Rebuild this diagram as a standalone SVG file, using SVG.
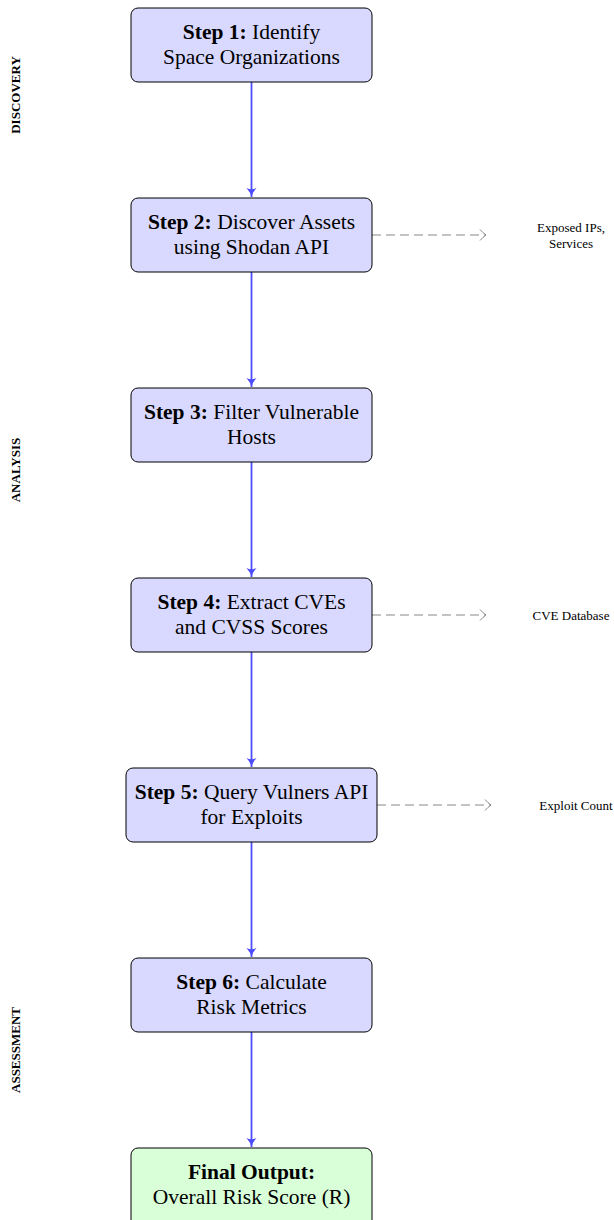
<svg xmlns="http://www.w3.org/2000/svg" width="614" height="1220" viewBox="0 0 614 1220">
<defs>
<marker id="ah" markerWidth="12" markerHeight="12" refX="9" refY="6" orient="auto" markerUnits="userSpaceOnUse">
<path d="M0,1 Q4.5,5 9,6 Q4.5,7 0,11 Q2.5,6 0,1 Z" fill="#4d4dff"/>
</marker>
<marker id="ao" markerWidth="10" markerHeight="14" refX="7" refY="7" orient="auto" markerUnits="userSpaceOnUse">
<path d="M1,1.5 Q4,5 7,7 Q4,9 1,12.5" fill="none" stroke="#888" stroke-width="1"/>
</marker>
</defs>
<style>
.box{fill:#d9d9ff;stroke:#000;stroke-width:1}
.fin{fill:#d9ffd9;stroke:#000;stroke-width:1}
.t{font-family:"Liberation Serif",serif;font-size:21.5px;fill:#000;text-anchor:middle}
.b{font-weight:bold}
.s{font-family:"Liberation Serif",serif;font-size:13px;fill:#000;text-anchor:middle}
.ph{font-family:"Liberation Serif",serif;font-size:13px;font-weight:bold;fill:#000;text-anchor:middle}
.flow{stroke:#4d4dff;stroke-width:1.8;fill:none;marker-end:url(#ah)}
.side{stroke:#888;stroke-width:1;stroke-dasharray:9,5;fill:none;marker-end:url(#ao)}
</style>
<g id="phases">
<text class="ph" transform="translate(20,95) rotate(-90)">DISCOVERY</text>
<text class="ph" transform="translate(20,470) rotate(-90)">ANALYSIS</text>
<text class="ph" transform="translate(20,1050) rotate(-90)">ASSESSMENT</text>
</g>
<g id="connectors">
<line class="flow" x1="251.5" y1="82" x2="251.5" y2="197"/>
<line class="flow" x1="251.5" y1="272" x2="251.5" y2="387"/>
<line class="flow" x1="251.5" y1="462" x2="251.5" y2="577"/>
<line class="flow" x1="251.5" y1="652" x2="251.5" y2="767"/>
<line class="flow" x1="251.5" y1="842" x2="251.5" y2="957"/>
<line class="flow" x1="251.5" y1="1032" x2="251.5" y2="1147"/>
<line class="side" x1="372" y1="235" x2="486" y2="235"/>
<line class="side" x1="372" y1="615" x2="486" y2="615"/>
<line class="side" x1="377" y1="805" x2="491" y2="805"/>
</g>
<g id="step1">
<rect class="box" x="131" y="8" width="241" height="74" rx="7"/>
<text class="t" x="251.5" y="39"><tspan class="b">Step 1:</tspan> Identify</text>
<text class="t" x="251.5" y="64">Space Organizations</text>
</g>
<g id="step2">
<rect class="box" x="131" y="198" width="241" height="74" rx="7"/>
<text class="t" x="251.5" y="229"><tspan class="b">Step 2:</tspan> Discover Assets</text>
<text class="t" x="251.5" y="254">using Shodan API</text>
</g>
<g id="step3">
<rect class="box" x="131" y="388" width="241" height="74" rx="7"/>
<text class="t" x="251.5" y="419"><tspan class="b">Step 3:</tspan> Filter Vulnerable</text>
<text class="t" x="251.5" y="444">Hosts</text>
</g>
<g id="step4">
<rect class="box" x="131" y="578" width="241" height="74" rx="7"/>
<text class="t" x="251.5" y="609"><tspan class="b">Step 4:</tspan> Extract CVEs</text>
<text class="t" x="251.5" y="634">and CVSS Scores</text>
</g>
<g id="step5">
<rect class="box" x="126" y="768" width="251" height="74" rx="7"/>
<text class="t" x="251.5" y="799"><tspan class="b">Step 5:</tspan> Query Vulners API</text>
<text class="t" x="251.5" y="824">for Exploits</text>
</g>
<g id="step6">
<rect class="box" x="131" y="958" width="241" height="74" rx="7"/>
<text class="t" x="251.5" y="989"><tspan class="b">Step 6:</tspan> Calculate</text>
<text class="t" x="251.5" y="1014">Risk Metrics</text>
</g>
<g id="final">
<rect class="fin" x="131" y="1148" width="241" height="80" rx="7"/>
<text class="t b" x="251.5" y="1179">Final Output:</text>
<text class="t" x="251.5" y="1204">Overall Risk Score (R)</text>
</g>
<g id="side-labels">
<text class="s" x="571" y="232">Exposed IPs,</text>
<text class="s" x="571" y="248">Services</text>
<text class="s" x="571" y="620">CVE Database</text>
<text class="s" x="576" y="810">Exploit Count</text>
</g>
</svg>
